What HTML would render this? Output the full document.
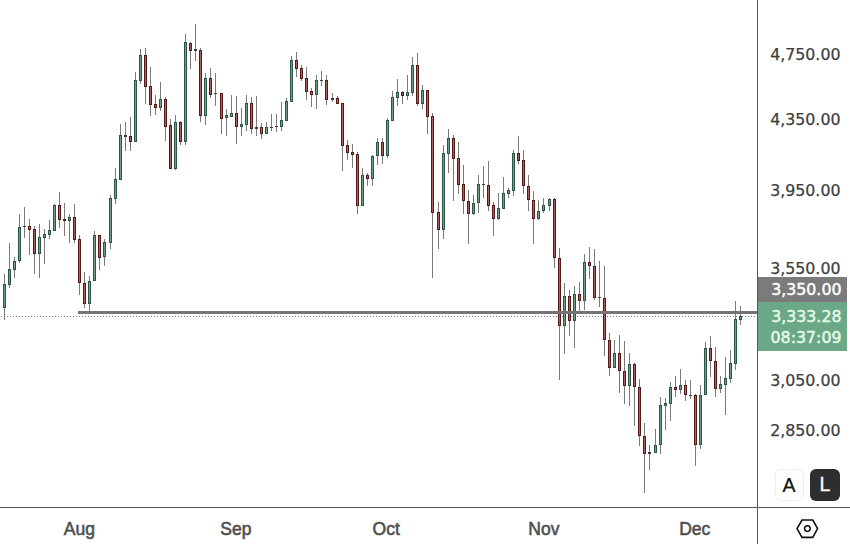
<!DOCTYPE html>
<html><head><meta charset="utf-8"><title>Chart</title>
<style>
html,body{margin:0;padding:0;background:#fff;}
body{width:850px;height:544px;position:relative;overflow:hidden;font-family:"DejaVu Sans","Liberation Sans",sans-serif;}
.chart{position:absolute;left:0;top:0;}
.vax{position:absolute;left:757px;top:0;width:1px;height:544px;background:#555;}
.hax{position:absolute;left:0;top:507px;width:850px;height:1px;background:#555;}
.pl{position:absolute;right:9.5px;font-size:15.8px;line-height:20px;color:#3e3e3e;-webkit-text-stroke:0.25px #3e3e3e;letter-spacing:0;}
.ml{position:absolute;top:519.2px;transform:translateX(-50%);font-size:17.5px;line-height:20px;font-weight:normal;color:#4e4e4e;-webkit-text-stroke:0.55px #4e4e4e;font-family:"Liberation Sans",sans-serif;}
.lab{position:absolute;left:758px;width:88.5px;}
.lab div{position:absolute;right:5px;font-size:15.8px;line-height:0;-webkit-text-stroke:0.45px currentColor;}
.gray{top:277px;height:25px;background:#7b7b7b;color:#fff;}
.green{top:302px;height:48.5px;background:#6ba887;color:#e4fbe9;}
.btn{position:absolute;top:469px;height:32px;border-radius:6px;box-sizing:border-box;font-family:"Liberation Sans",sans-serif;font-size:19.5px;text-align:center;line-height:30px;}
.ba{left:774.5px;width:29px;border:1px solid #efefef;color:#111;background:#fff;-webkit-text-stroke:0.2px #111;}
.bl{left:810px;width:30px;background:#2e2e2e;color:#fff;-webkit-text-stroke:0.3px #fff;}
</style></head><body>
<svg class="chart" width="757" height="507" viewBox="0 0 757 507"><line x1="1" y1="316.5" x2="757" y2="316.5" stroke="#7a7a7a" stroke-width="1" stroke-dasharray="1 2"/><g fill="#7a7a7a"><rect x="4" y="274" width="1" height="46"/><rect x="9" y="243" width="1" height="45"/><rect x="14" y="257" width="1" height="21"/><rect x="19" y="214" width="1" height="49"/><rect x="24" y="207" width="1" height="31"/><rect x="29" y="219" width="1" height="36"/><rect x="34" y="226" width="1" height="48"/><rect x="39" y="224" width="1" height="54"/><rect x="44" y="229" width="1" height="35"/><rect x="49" y="220" width="1" height="19"/><rect x="54" y="204" width="1" height="27"/><rect x="59" y="192" width="1" height="36"/><rect x="64" y="203" width="1" height="33"/><rect x="69" y="214" width="1" height="29"/><rect x="74" y="204" width="1" height="39"/><rect x="79" y="235" width="1" height="60"/><rect x="84" y="272" width="1" height="36"/><rect x="89" y="276" width="1" height="35"/><rect x="94" y="231" width="1" height="50"/><rect x="99" y="235" width="1" height="35"/><rect x="104" y="239" width="1" height="27"/><rect x="110" y="195" width="1" height="54"/><rect x="115" y="168" width="1" height="36"/><rect x="120" y="124" width="1" height="56"/><rect x="125" y="122" width="1" height="29"/><rect x="130" y="117" width="1" height="34"/><rect x="135" y="72" width="1" height="70"/><rect x="140" y="49" width="1" height="35"/><rect x="145" y="48" width="1" height="56"/><rect x="150" y="67" width="1" height="49"/><rect x="155" y="95" width="1" height="20"/><rect x="160" y="82" width="1" height="29"/><rect x="165" y="97" width="1" height="44"/><rect x="170" y="119" width="1" height="50"/><rect x="175" y="115" width="1" height="55"/><rect x="180" y="121" width="1" height="24"/><rect x="185" y="34" width="1" height="111"/><rect x="190" y="42" width="1" height="27"/><rect x="195" y="24" width="1" height="37"/><rect x="200" y="48" width="1" height="74"/><rect x="205" y="73" width="1" height="52"/><rect x="210" y="68" width="1" height="30"/><rect x="215" y="73" width="1" height="33"/><rect x="221" y="93" width="1" height="41"/><rect x="226" y="109" width="1" height="27"/><rect x="231" y="95" width="1" height="22"/><rect x="236" y="96" width="1" height="48"/><rect x="241" y="108" width="1" height="28"/><rect x="246" y="95" width="1" height="36"/><rect x="251" y="97" width="1" height="37"/><rect x="256" y="96" width="1" height="40"/><rect x="261" y="123" width="1" height="16"/><rect x="266" y="122" width="1" height="12"/><rect x="271" y="114" width="1" height="17"/><rect x="276" y="114" width="1" height="18"/><rect x="281" y="102" width="1" height="29"/><rect x="286" y="98" width="1" height="23"/><rect x="291" y="56" width="1" height="46"/><rect x="296" y="52" width="1" height="25"/><rect x="301" y="65" width="1" height="16"/><rect x="306" y="67" width="1" height="33"/><rect x="311" y="88" width="1" height="19"/><rect x="316" y="75" width="1" height="34"/><rect x="321" y="71" width="1" height="15"/><rect x="326" y="75" width="1" height="30"/><rect x="332" y="93" width="1" height="9"/><rect x="337" y="96" width="1" height="8"/><rect x="342" y="103" width="1" height="68"/><rect x="347" y="140" width="1" height="20"/><rect x="352" y="144" width="1" height="24"/><rect x="357" y="152" width="1" height="62"/><rect x="362" y="168" width="1" height="38"/><rect x="367" y="173" width="1" height="13"/><rect x="372" y="155" width="1" height="31"/><rect x="377" y="138" width="1" height="27"/><rect x="382" y="138" width="1" height="26"/><rect x="387" y="118" width="1" height="40"/><rect x="392" y="91" width="1" height="30"/><rect x="397" y="79" width="1" height="27"/><rect x="402" y="91" width="1" height="13"/><rect x="407" y="75" width="1" height="25"/><rect x="412" y="57" width="1" height="39"/><rect x="417" y="53" width="1" height="53"/><rect x="422" y="85" width="1" height="24"/><rect x="427" y="90" width="1" height="44"/><rect x="432" y="113" width="1" height="165"/><rect x="438" y="202" width="1" height="47"/><rect x="443" y="145" width="1" height="94"/><rect x="448" y="129" width="1" height="44"/><rect x="453" y="135" width="1" height="66"/><rect x="458" y="142" width="1" height="52"/><rect x="463" y="165" width="1" height="49"/><rect x="468" y="190" width="1" height="54"/><rect x="473" y="195" width="1" height="20"/><rect x="478" y="175" width="1" height="38"/><rect x="483" y="166" width="1" height="32"/><rect x="488" y="161" width="1" height="50"/><rect x="493" y="202" width="1" height="34"/><rect x="498" y="193" width="1" height="27"/><rect x="503" y="177" width="1" height="32"/><rect x="508" y="188" width="1" height="10"/><rect x="513" y="150" width="1" height="46"/><rect x="518" y="136" width="1" height="28"/><rect x="523" y="150" width="1" height="44"/><rect x="528" y="175" width="1" height="36"/><rect x="533" y="191" width="1" height="53"/><rect x="538" y="200" width="1" height="20"/><rect x="543" y="198" width="1" height="15"/><rect x="549" y="198" width="1" height="13"/><rect x="554" y="198" width="1" height="70"/><rect x="559" y="248" width="1" height="132"/><rect x="564" y="283" width="1" height="71"/><rect x="569" y="290" width="1" height="46"/><rect x="574" y="286" width="1" height="62"/><rect x="579" y="282" width="1" height="29"/><rect x="584" y="254" width="1" height="56"/><rect x="589" y="247" width="1" height="32"/><rect x="594" y="249" width="1" height="51"/><rect x="599" y="261" width="1" height="46"/><rect x="604" y="266" width="1" height="90"/><rect x="609" y="333" width="1" height="43"/><rect x="614" y="340" width="1" height="28"/><rect x="619" y="335" width="1" height="58"/><rect x="624" y="341" width="1" height="63"/><rect x="629" y="353" width="1" height="53"/><rect x="634" y="363" width="1" height="63"/><rect x="639" y="379" width="1" height="67"/><rect x="644" y="423" width="1" height="70"/><rect x="649" y="445" width="1" height="25"/><rect x="655" y="429" width="1" height="24"/><rect x="660" y="397" width="1" height="57"/><rect x="665" y="398" width="1" height="32"/><rect x="670" y="382" width="1" height="39"/><rect x="675" y="376" width="1" height="21"/><rect x="680" y="369" width="1" height="25"/><rect x="685" y="380" width="1" height="21"/><rect x="690" y="380" width="1" height="19"/><rect x="695" y="394" width="1" height="72"/><rect x="700" y="385" width="1" height="64"/><rect x="705" y="342" width="1" height="53"/><rect x="710" y="336" width="1" height="41"/><rect x="715" y="347" width="1" height="50"/><rect x="720" y="376" width="1" height="17"/><rect x="725" y="357" width="1" height="58"/><rect x="730" y="350" width="1" height="33"/><rect x="735" y="301" width="1" height="69"/><rect x="740" y="306" width="1" height="19"/></g><g shape-rendering="crispEdges"><rect x="3" y="284" width="3" height="24" fill="#2d5546"/><rect x="4" y="285" width="1" height="22" fill="#6d9f88"/><rect x="8" y="269" width="3" height="16" fill="#2d5546"/><rect x="9" y="270" width="1" height="14" fill="#6d9f88"/><rect x="13" y="261" width="3" height="9" fill="#2d5546"/><rect x="14" y="262" width="1" height="7" fill="#6d9f88"/><rect x="18" y="227" width="3" height="34" fill="#2d5546"/><rect x="19" y="228" width="1" height="32" fill="#6d9f88"/><rect x="23" y="226" width="3" height="1" fill="#3c3c3c"/><rect x="28" y="226" width="3" height="4" fill="#561a16"/><rect x="29" y="227" width="1" height="2" fill="#ab5f5e"/><rect x="33" y="229" width="3" height="25" fill="#561a16"/><rect x="34" y="230" width="1" height="23" fill="#ab5f5e"/><rect x="38" y="237" width="3" height="17" fill="#2d5546"/><rect x="39" y="238" width="1" height="15" fill="#6d9f88"/><rect x="43" y="234" width="3" height="4" fill="#2d5546"/><rect x="44" y="235" width="1" height="2" fill="#6d9f88"/><rect x="48" y="230" width="3" height="5" fill="#2d5546"/><rect x="49" y="231" width="1" height="3" fill="#6d9f88"/><rect x="53" y="205" width="3" height="26" fill="#2d5546"/><rect x="54" y="206" width="1" height="24" fill="#6d9f88"/><rect x="58" y="205" width="3" height="15" fill="#561a16"/><rect x="59" y="206" width="1" height="13" fill="#ab5f5e"/><rect x="63" y="219" width="3" height="2" fill="#561a16"/><rect x="68" y="217" width="3" height="4" fill="#2d5546"/><rect x="69" y="218" width="1" height="2" fill="#6d9f88"/><rect x="73" y="217" width="3" height="23" fill="#561a16"/><rect x="74" y="218" width="1" height="21" fill="#ab5f5e"/><rect x="78" y="239" width="3" height="44" fill="#561a16"/><rect x="79" y="240" width="1" height="42" fill="#ab5f5e"/><rect x="83" y="283" width="3" height="21" fill="#561a16"/><rect x="84" y="284" width="1" height="19" fill="#ab5f5e"/><rect x="88" y="281" width="3" height="23" fill="#2d5546"/><rect x="89" y="282" width="1" height="21" fill="#6d9f88"/><rect x="93" y="235" width="3" height="46" fill="#2d5546"/><rect x="94" y="236" width="1" height="44" fill="#6d9f88"/><rect x="98" y="235" width="3" height="23" fill="#561a16"/><rect x="99" y="236" width="1" height="21" fill="#ab5f5e"/><rect x="103" y="242" width="3" height="15" fill="#2d5546"/><rect x="104" y="243" width="1" height="13" fill="#6d9f88"/><rect x="109" y="198" width="3" height="45" fill="#2d5546"/><rect x="110" y="199" width="1" height="43" fill="#6d9f88"/><rect x="114" y="179" width="3" height="20" fill="#2d5546"/><rect x="115" y="180" width="1" height="18" fill="#6d9f88"/><rect x="119" y="135" width="3" height="45" fill="#2d5546"/><rect x="120" y="136" width="1" height="43" fill="#6d9f88"/><rect x="124" y="135" width="3" height="2" fill="#3c3c3c"/><rect x="129" y="136" width="3" height="6" fill="#561a16"/><rect x="130" y="137" width="1" height="4" fill="#ab5f5e"/><rect x="134" y="80" width="3" height="62" fill="#2d5546"/><rect x="135" y="81" width="1" height="60" fill="#6d9f88"/><rect x="139" y="55" width="3" height="26" fill="#2d5546"/><rect x="140" y="56" width="1" height="24" fill="#6d9f88"/><rect x="144" y="55" width="3" height="32" fill="#561a16"/><rect x="145" y="56" width="1" height="30" fill="#ab5f5e"/><rect x="149" y="86" width="3" height="19" fill="#561a16"/><rect x="150" y="87" width="1" height="17" fill="#ab5f5e"/><rect x="154" y="104" width="3" height="4" fill="#561a16"/><rect x="155" y="105" width="1" height="2" fill="#ab5f5e"/><rect x="159" y="99" width="3" height="9" fill="#2d5546"/><rect x="160" y="100" width="1" height="7" fill="#6d9f88"/><rect x="164" y="99" width="3" height="28" fill="#561a16"/><rect x="165" y="100" width="1" height="26" fill="#ab5f5e"/><rect x="169" y="125" width="3" height="44" fill="#561a16"/><rect x="170" y="126" width="1" height="42" fill="#ab5f5e"/><rect x="174" y="122" width="3" height="47" fill="#2d5546"/><rect x="175" y="123" width="1" height="45" fill="#6d9f88"/><rect x="179" y="122" width="3" height="20" fill="#561a16"/><rect x="180" y="123" width="1" height="18" fill="#ab5f5e"/><rect x="184" y="42" width="3" height="100" fill="#2d5546"/><rect x="185" y="43" width="1" height="98" fill="#6d9f88"/><rect x="189" y="43" width="3" height="8" fill="#561a16"/><rect x="190" y="44" width="1" height="6" fill="#ab5f5e"/><rect x="194" y="49" width="3" height="2" fill="#3c3c3c"/><rect x="199" y="50" width="3" height="66" fill="#561a16"/><rect x="200" y="51" width="1" height="64" fill="#ab5f5e"/><rect x="204" y="78" width="3" height="38" fill="#2d5546"/><rect x="205" y="79" width="1" height="36" fill="#6d9f88"/><rect x="209" y="78" width="3" height="17" fill="#561a16"/><rect x="210" y="79" width="1" height="15" fill="#ab5f5e"/><rect x="214" y="93" width="3" height="1" fill="#3c3c3c"/><rect x="220" y="93" width="3" height="26" fill="#561a16"/><rect x="221" y="94" width="1" height="24" fill="#ab5f5e"/><rect x="225" y="115" width="3" height="3" fill="#2d5546"/><rect x="226" y="116" width="1" height="1" fill="#6d9f88"/><rect x="230" y="113" width="3" height="4" fill="#2d5546"/><rect x="231" y="114" width="1" height="2" fill="#6d9f88"/><rect x="235" y="113" width="3" height="14" fill="#561a16"/><rect x="236" y="114" width="1" height="12" fill="#ab5f5e"/><rect x="240" y="124" width="3" height="3" fill="#2d5546"/><rect x="241" y="125" width="1" height="1" fill="#6d9f88"/><rect x="245" y="103" width="3" height="22" fill="#2d5546"/><rect x="246" y="104" width="1" height="20" fill="#6d9f88"/><rect x="250" y="103" width="3" height="26" fill="#561a16"/><rect x="251" y="104" width="1" height="24" fill="#ab5f5e"/><rect x="255" y="127" width="3" height="2" fill="#3c3c3c"/><rect x="260" y="127" width="3" height="7" fill="#561a16"/><rect x="261" y="128" width="1" height="5" fill="#ab5f5e"/><rect x="265" y="127" width="3" height="7" fill="#2d5546"/><rect x="266" y="128" width="1" height="5" fill="#6d9f88"/><rect x="270" y="127" width="3" height="1" fill="#3c3c3c"/><rect x="275" y="126" width="3" height="1" fill="#3c3c3c"/><rect x="280" y="120" width="3" height="7" fill="#2d5546"/><rect x="281" y="121" width="1" height="5" fill="#6d9f88"/><rect x="285" y="101" width="3" height="20" fill="#2d5546"/><rect x="286" y="102" width="1" height="18" fill="#6d9f88"/><rect x="290" y="60" width="3" height="42" fill="#2d5546"/><rect x="291" y="61" width="1" height="40" fill="#6d9f88"/><rect x="295" y="60" width="3" height="9" fill="#561a16"/><rect x="296" y="61" width="1" height="7" fill="#ab5f5e"/><rect x="300" y="68" width="3" height="11" fill="#561a16"/><rect x="301" y="69" width="1" height="9" fill="#ab5f5e"/><rect x="305" y="78" width="3" height="14" fill="#561a16"/><rect x="306" y="79" width="1" height="12" fill="#ab5f5e"/><rect x="310" y="91" width="3" height="4" fill="#561a16"/><rect x="311" y="92" width="1" height="2" fill="#ab5f5e"/><rect x="315" y="80" width="3" height="15" fill="#2d5546"/><rect x="316" y="81" width="1" height="13" fill="#6d9f88"/><rect x="320" y="80" width="3" height="1" fill="#3c3c3c"/><rect x="325" y="80" width="3" height="20" fill="#561a16"/><rect x="326" y="81" width="1" height="18" fill="#ab5f5e"/><rect x="331" y="98" width="3" height="2" fill="#3c3c3c"/><rect x="336" y="98" width="3" height="6" fill="#561a16"/><rect x="337" y="99" width="1" height="4" fill="#ab5f5e"/><rect x="341" y="103" width="3" height="43" fill="#561a16"/><rect x="342" y="104" width="1" height="41" fill="#ab5f5e"/><rect x="346" y="145" width="3" height="8" fill="#561a16"/><rect x="347" y="146" width="1" height="6" fill="#ab5f5e"/><rect x="351" y="152" width="3" height="3" fill="#561a16"/><rect x="352" y="153" width="1" height="1" fill="#ab5f5e"/><rect x="356" y="154" width="3" height="52" fill="#561a16"/><rect x="357" y="155" width="1" height="50" fill="#ab5f5e"/><rect x="361" y="175" width="3" height="31" fill="#2d5546"/><rect x="362" y="176" width="1" height="29" fill="#6d9f88"/><rect x="366" y="175" width="3" height="4" fill="#561a16"/><rect x="367" y="176" width="1" height="2" fill="#ab5f5e"/><rect x="371" y="156" width="3" height="23" fill="#2d5546"/><rect x="372" y="157" width="1" height="21" fill="#6d9f88"/><rect x="376" y="142" width="3" height="14" fill="#2d5546"/><rect x="377" y="143" width="1" height="12" fill="#6d9f88"/><rect x="381" y="142" width="3" height="14" fill="#561a16"/><rect x="382" y="143" width="1" height="12" fill="#ab5f5e"/><rect x="386" y="120" width="3" height="36" fill="#2d5546"/><rect x="387" y="121" width="1" height="34" fill="#6d9f88"/><rect x="391" y="97" width="3" height="24" fill="#2d5546"/><rect x="392" y="98" width="1" height="22" fill="#6d9f88"/><rect x="396" y="92" width="3" height="6" fill="#2d5546"/><rect x="397" y="93" width="1" height="4" fill="#6d9f88"/><rect x="401" y="92" width="3" height="4" fill="#561a16"/><rect x="402" y="93" width="1" height="2" fill="#ab5f5e"/><rect x="406" y="92" width="3" height="4" fill="#2d5546"/><rect x="407" y="93" width="1" height="2" fill="#6d9f88"/><rect x="411" y="65" width="3" height="28" fill="#2d5546"/><rect x="412" y="66" width="1" height="26" fill="#6d9f88"/><rect x="416" y="65" width="3" height="39" fill="#561a16"/><rect x="417" y="66" width="1" height="37" fill="#ab5f5e"/><rect x="421" y="90" width="3" height="14" fill="#2d5546"/><rect x="422" y="91" width="1" height="12" fill="#6d9f88"/><rect x="426" y="90" width="3" height="27" fill="#561a16"/><rect x="427" y="91" width="1" height="25" fill="#ab5f5e"/><rect x="431" y="116" width="3" height="97" fill="#561a16"/><rect x="432" y="117" width="1" height="95" fill="#ab5f5e"/><rect x="437" y="212" width="3" height="18" fill="#561a16"/><rect x="438" y="213" width="1" height="16" fill="#ab5f5e"/><rect x="442" y="153" width="3" height="77" fill="#2d5546"/><rect x="443" y="154" width="1" height="75" fill="#6d9f88"/><rect x="447" y="138" width="3" height="16" fill="#2d5546"/><rect x="448" y="139" width="1" height="14" fill="#6d9f88"/><rect x="452" y="138" width="3" height="21" fill="#561a16"/><rect x="453" y="139" width="1" height="19" fill="#ab5f5e"/><rect x="457" y="158" width="3" height="27" fill="#561a16"/><rect x="458" y="159" width="1" height="25" fill="#ab5f5e"/><rect x="462" y="184" width="3" height="17" fill="#561a16"/><rect x="463" y="185" width="1" height="15" fill="#ab5f5e"/><rect x="467" y="201" width="3" height="13" fill="#561a16"/><rect x="468" y="202" width="1" height="11" fill="#ab5f5e"/><rect x="472" y="203" width="3" height="11" fill="#2d5546"/><rect x="473" y="204" width="1" height="9" fill="#6d9f88"/><rect x="477" y="184" width="3" height="19" fill="#2d5546"/><rect x="478" y="185" width="1" height="17" fill="#6d9f88"/><rect x="482" y="184" width="3" height="1" fill="#3c3c3c"/><rect x="487" y="185" width="3" height="21" fill="#561a16"/><rect x="488" y="186" width="1" height="19" fill="#ab5f5e"/><rect x="492" y="205" width="3" height="14" fill="#561a16"/><rect x="493" y="206" width="1" height="12" fill="#ab5f5e"/><rect x="497" y="208" width="3" height="11" fill="#2d5546"/><rect x="498" y="209" width="1" height="9" fill="#6d9f88"/><rect x="502" y="193" width="3" height="16" fill="#2d5546"/><rect x="503" y="194" width="1" height="14" fill="#6d9f88"/><rect x="507" y="190" width="3" height="4" fill="#2d5546"/><rect x="508" y="191" width="1" height="2" fill="#6d9f88"/><rect x="512" y="153" width="3" height="38" fill="#2d5546"/><rect x="513" y="154" width="1" height="36" fill="#6d9f88"/><rect x="517" y="153" width="3" height="8" fill="#561a16"/><rect x="518" y="154" width="1" height="6" fill="#ab5f5e"/><rect x="522" y="160" width="3" height="26" fill="#561a16"/><rect x="523" y="161" width="1" height="24" fill="#ab5f5e"/><rect x="527" y="186" width="3" height="14" fill="#561a16"/><rect x="528" y="187" width="1" height="12" fill="#ab5f5e"/><rect x="532" y="200" width="3" height="19" fill="#561a16"/><rect x="533" y="201" width="1" height="17" fill="#ab5f5e"/><rect x="537" y="211" width="3" height="8" fill="#2d5546"/><rect x="538" y="212" width="1" height="6" fill="#6d9f88"/><rect x="542" y="205" width="3" height="6" fill="#2d5546"/><rect x="543" y="206" width="1" height="4" fill="#6d9f88"/><rect x="548" y="199" width="3" height="7" fill="#2d5546"/><rect x="549" y="200" width="1" height="5" fill="#6d9f88"/><rect x="553" y="199" width="3" height="59" fill="#561a16"/><rect x="554" y="200" width="1" height="57" fill="#ab5f5e"/><rect x="558" y="258" width="3" height="68" fill="#561a16"/><rect x="559" y="259" width="1" height="66" fill="#ab5f5e"/><rect x="563" y="296" width="3" height="30" fill="#2d5546"/><rect x="564" y="297" width="1" height="28" fill="#6d9f88"/><rect x="568" y="296" width="3" height="25" fill="#561a16"/><rect x="569" y="297" width="1" height="23" fill="#ab5f5e"/><rect x="573" y="294" width="3" height="27" fill="#2d5546"/><rect x="574" y="295" width="1" height="25" fill="#6d9f88"/><rect x="578" y="294" width="3" height="7" fill="#561a16"/><rect x="579" y="295" width="1" height="5" fill="#ab5f5e"/><rect x="583" y="262" width="3" height="39" fill="#2d5546"/><rect x="584" y="263" width="1" height="37" fill="#6d9f88"/><rect x="588" y="262" width="3" height="4" fill="#561a16"/><rect x="589" y="263" width="1" height="2" fill="#ab5f5e"/><rect x="593" y="266" width="3" height="32" fill="#561a16"/><rect x="594" y="267" width="1" height="30" fill="#ab5f5e"/><rect x="598" y="297" width="3" height="1" fill="#3c3c3c"/><rect x="603" y="298" width="3" height="42" fill="#561a16"/><rect x="604" y="299" width="1" height="40" fill="#ab5f5e"/><rect x="608" y="340" width="3" height="28" fill="#561a16"/><rect x="609" y="341" width="1" height="26" fill="#ab5f5e"/><rect x="613" y="353" width="3" height="15" fill="#2d5546"/><rect x="614" y="354" width="1" height="13" fill="#6d9f88"/><rect x="618" y="353" width="3" height="18" fill="#561a16"/><rect x="619" y="354" width="1" height="16" fill="#ab5f5e"/><rect x="623" y="371" width="3" height="15" fill="#561a16"/><rect x="624" y="372" width="1" height="13" fill="#ab5f5e"/><rect x="628" y="364" width="3" height="22" fill="#2d5546"/><rect x="629" y="365" width="1" height="20" fill="#6d9f88"/><rect x="633" y="364" width="3" height="23" fill="#561a16"/><rect x="634" y="365" width="1" height="21" fill="#ab5f5e"/><rect x="638" y="387" width="3" height="49" fill="#561a16"/><rect x="639" y="388" width="1" height="47" fill="#ab5f5e"/><rect x="643" y="436" width="3" height="18" fill="#561a16"/><rect x="644" y="437" width="1" height="16" fill="#ab5f5e"/><rect x="648" y="452" width="3" height="2" fill="#3c3c3c"/><rect x="654" y="445" width="3" height="8" fill="#2d5546"/><rect x="655" y="446" width="1" height="6" fill="#6d9f88"/><rect x="659" y="405" width="3" height="40" fill="#2d5546"/><rect x="660" y="406" width="1" height="38" fill="#6d9f88"/><rect x="664" y="403" width="3" height="3" fill="#2d5546"/><rect x="665" y="404" width="1" height="1" fill="#6d9f88"/><rect x="669" y="387" width="3" height="17" fill="#2d5546"/><rect x="670" y="388" width="1" height="15" fill="#6d9f88"/><rect x="674" y="387" width="3" height="3" fill="#561a16"/><rect x="675" y="388" width="1" height="1" fill="#ab5f5e"/><rect x="679" y="385" width="3" height="5" fill="#2d5546"/><rect x="680" y="386" width="1" height="3" fill="#6d9f88"/><rect x="684" y="385" width="3" height="10" fill="#561a16"/><rect x="685" y="386" width="1" height="8" fill="#ab5f5e"/><rect x="689" y="395" width="3" height="1" fill="#3c3c3c"/><rect x="694" y="395" width="3" height="50" fill="#561a16"/><rect x="695" y="396" width="1" height="48" fill="#ab5f5e"/><rect x="699" y="395" width="3" height="50" fill="#2d5546"/><rect x="700" y="396" width="1" height="48" fill="#6d9f88"/><rect x="704" y="348" width="3" height="47" fill="#2d5546"/><rect x="705" y="349" width="1" height="45" fill="#6d9f88"/><rect x="709" y="348" width="3" height="13" fill="#561a16"/><rect x="710" y="349" width="1" height="11" fill="#ab5f5e"/><rect x="714" y="361" width="3" height="28" fill="#561a16"/><rect x="715" y="362" width="1" height="26" fill="#ab5f5e"/><rect x="719" y="384" width="3" height="5" fill="#2d5546"/><rect x="720" y="385" width="1" height="3" fill="#6d9f88"/><rect x="724" y="378" width="3" height="7" fill="#2d5546"/><rect x="725" y="379" width="1" height="5" fill="#6d9f88"/><rect x="729" y="363" width="3" height="16" fill="#2d5546"/><rect x="730" y="364" width="1" height="14" fill="#6d9f88"/><rect x="734" y="319" width="3" height="45" fill="#2d5546"/><rect x="735" y="320" width="1" height="43" fill="#6d9f88"/><rect x="739" y="316" width="3" height="4" fill="#2d5546"/><rect x="740" y="317" width="1" height="2" fill="#6d9f88"/></g><rect x="78" y="311" width="679" height="3" fill="#747474"/></svg>
<div class="vax"></div><div class="hax"></div>
<div class="pl" style="top:45.05px">4,750.00</div><div class="pl" style="top:109.65px">4,350.00</div><div class="pl" style="top:180.85px">3,950.00</div><div class="pl" style="top:258.85px">3,550.00</div><div class="pl" style="top:370.85px">3,050.00</div><div class="pl" style="top:420.85px">2,850.00</div>
<div class="lab gray"><div style="top:13.3px">3,350.00</div></div>
<div class="lab green"><div style="top:14.5px">3,333.28</div><div style="top:35.9px">08:37:09</div></div>
<div class="ml" style="left:79.4px">Aug</div><div class="ml" style="left:235.9px">Sep</div><div class="ml" style="left:386.2px">Oct</div><div class="ml" style="left:543.9px">Nov</div><div class="ml" style="left:694.7px">Dec</div>
<div class="btn ba">A</div><div class="btn bl">L</div>
<svg style="position:absolute;left:790px;top:512px" width="34" height="32" viewBox="790 512 34 32">
<polygon points="797,528.6 802,520 812.8,520 817.6,528.6 812.8,537.4 802,537.4" fill="none" stroke="#111" stroke-width="1.6" stroke-linejoin="miter"/>
<circle cx="807.4" cy="528.6" r="2.8" fill="none" stroke="#111" stroke-width="1.5"/>
</svg>
</body></html>
